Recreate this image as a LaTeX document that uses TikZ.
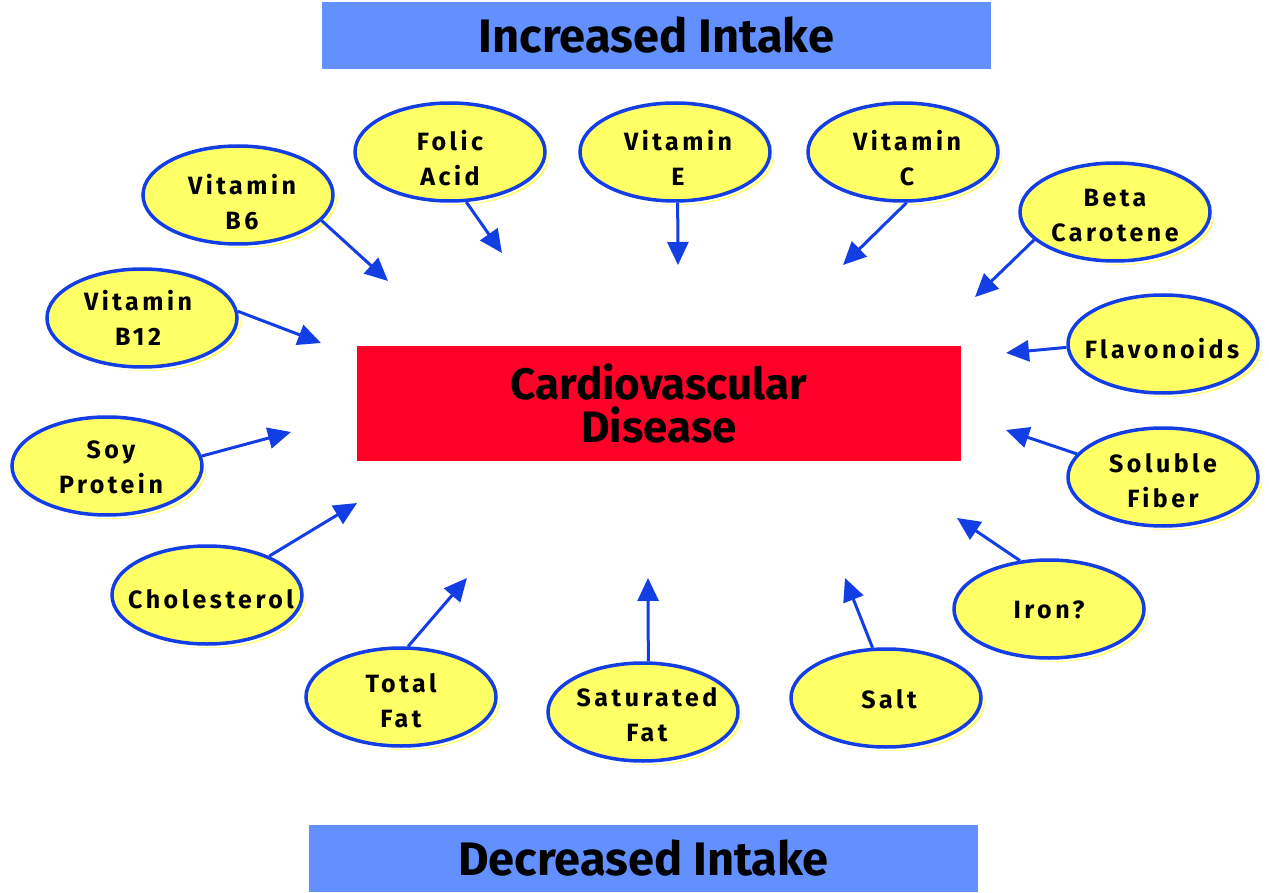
\documentclass[tikz,border=0pt]{standalone}
\usepackage{fontspec}
\setmainfont{Fira Sans}
\newfontfamily\ellfont[LetterSpace=14]{Fira Sans}
\usetikzlibrary{arrows.meta,shadows,shapes.geometric}
\definecolor{bannerblue}{RGB}{98,144,255}
\definecolor{cvdred}{RGB}{255,0,40}
\definecolor{ellyellow}{RGB}{255,255,102}
\definecolor{ellblue}{RGB}{18,62,228}
\definecolor{arrblue}{RGB}{18,62,228}
\begin{document}
\begin{tikzpicture}[x=1pt,y=-1pt,
  banner/.style={rectangle, fill=bannerblue, minimum width=669pt, minimum height=67pt, inner sep=0pt,
    font=\bfseries\fontsize{47}{47}\selectfont},
  cvdbox/.style={rectangle, fill=cvdred, minimum width=604pt, minimum height=115pt, inner sep=0pt,
    align=center, font=\bfseries\fontsize{44}{43}\selectfont},
  ell/.style={ellipse, minimum width=190pt, minimum height=98pt, inner sep=0pt,
    drop shadow={shadow xshift=4pt, shadow yshift=-4pt, fill=ellyellow, opacity=1},
    preaction={draw=white, line width=7pt},
    fill=ellyellow, draw=ellblue, line width=3.5pt},
  elltext/.style={inner sep=0pt, align=center,
    font=\ellfont\bfseries\fontsize{25}{35}\selectfont},
  arr/.style={draw=arrblue, line width=3pt, -{Triangle[length=23pt,width=21pt]}}]
\useasboundingbox (0,0) rectangle (1269,893);

\node[banner] (inc) at (656.5,35.5) {Increased Intake};
\node[banner] (dec) at (643.5,858.5) {Decreased Intake};
\node[cvdbox] (cvd) at (659,403.5) {Cardiovascular\\Disease};

\node[ell] (b6) at (238,195) {};
\node[ell] (folic) at (450,152) {};
\node[ell] (ve) at (675,152) {};
\node[ell] (vc) at (903,152) {};
\node[ell] (beta) at (1115,212) {};
\node[ell] (flav) at (1163,344) {};
\node[ell] (fiber) at (1163,477) {};
\node[ell] (iron) at (1049,609) {};
\node[ell] (salt) at (886,698) {};
\node[ell] (sat) at (643,712) {};
\node[ell] (tfat) at (401,697) {};
\node[ell] (chol) at (207,595) {};
\node[ell] (soy) at (107,466) {};
\node[ell] (b12) at (142,318) {};

\node[elltext] (b6t) at (242,202) {Vitamin\\B6};
\node[elltext] (folict) at (450,158) {Folic\\Acid};
\node[elltext] (vet) at (678,158) {Vitamin\\E};
\node[elltext] (vct) at (907,158) {Vitamin\\C};
\node[elltext] (betat) at (1115,216) {Beta\\Carotene};
\node[elltext] (flavt) at (1162,349) {Flavonoids};
\node[elltext] (fibert) at (1163,481) {Soluble\\Fiber};
\node[elltext] (iront) at (1049,610) {Iron?};
\node[elltext] (saltt) at (889,699) {Salt};
\node[elltext] (satt) at (647,715) {Saturated\\Fat};
\node[elltext] (tfatt) at (401,701) {Total\\Fat};
\node[elltext] (cholt) at (211,599) {Cholesterol};
\node[elltext] (soyt) at (111,467) {Soy\\Protein};
\node[elltext] (b12t) at (138,318) {Vitamin\\B12};

\coordinate (tb6) at (388,281);
\coordinate (tfolic) at (502,253);
\coordinate (tve) at (678,265);
\coordinate (tvc) at (843,265);
\coordinate (tbeta) at (975,297);
\coordinate (tflav) at (1006,353);
\coordinate (tfiber) at (1006,430);
\coordinate (tiron) at (957,518);
\coordinate (tsalt) at (845,578);
\coordinate (tsat) at (648,578);
\coordinate (ttfat) at (467,578);
\coordinate (tchol) at (357,503);
\coordinate (tsoy) at (291,432);
\coordinate (tb12) at (321,343);

\draw[arr] (b6.-17) -- (tb6);
\draw[arr] (folic.-72) -- (tfolic);
\draw[arr] (ve.-87) -- (tve);
\draw[arr] (vc.-86) -- (tvc);
\draw[arr] (beta.199) -- (tbeta);
\draw[arr] (flav.182) -- (tflav);
\draw[arr] (fiber.165) -- (tfiber);
\draw[arr] (iron.121) -- (tiron);
\draw[arr] (salt.105) -- (tsalt);
\draw[arr] (sat.84) -- (tsat);
\draw[arr] (tfat.82) -- (ttfat);
\draw[arr] (chol.32) -- (tchol);
\draw[arr] (soy.6) -- (tsoy);
\draw[arr] (b12.4) -- (tb12);
\end{tikzpicture}
\end{document}
